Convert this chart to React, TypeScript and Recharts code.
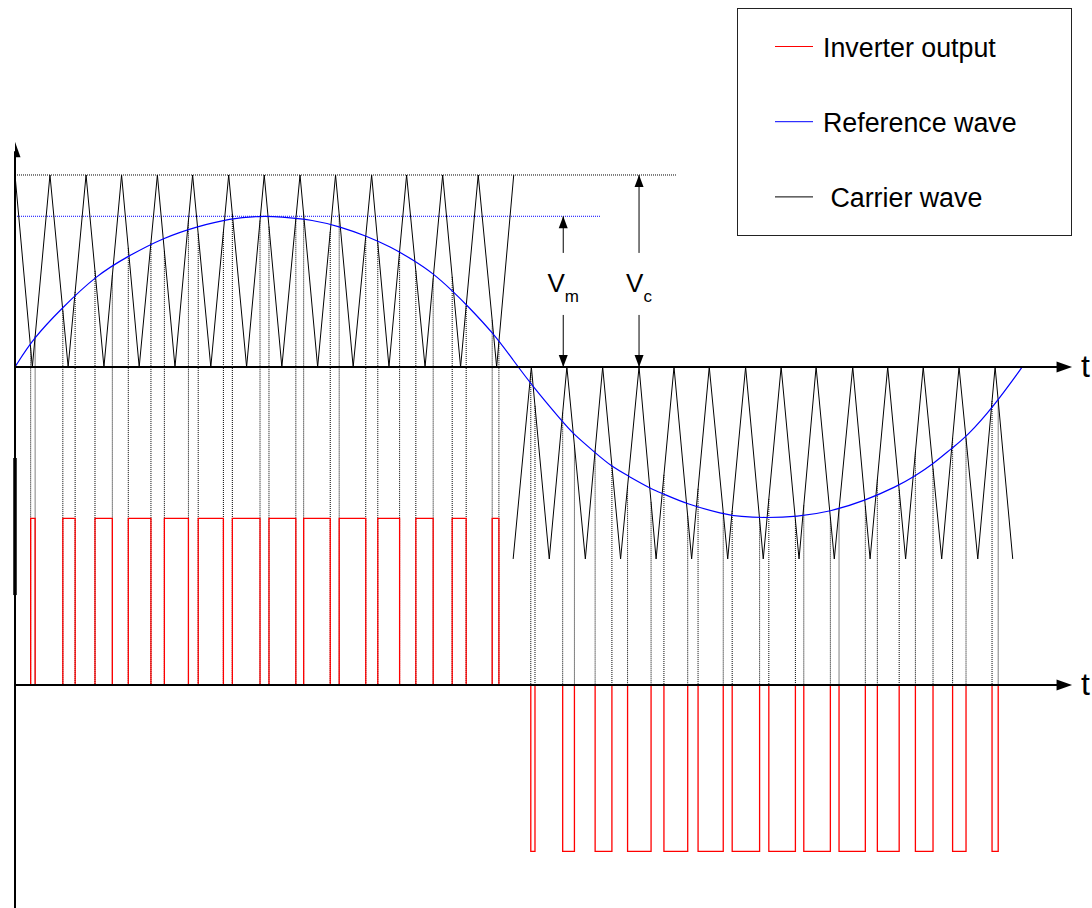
import React from 'react'
import { ComposedChart, Line, Scatter, XAxis, YAxis, ReferenceLine, Legend } from 'recharts'

// t = degrees of the reference wave, v = voltage normalised to the carrier peak (Vc = 1)
const CARRIER_POS_T = [0, 6.2, 12.5, 19.0, 25.4, 31.8, 38.1, 44.4, 50.9, 57.2, 63.5, 70.0, 76.4, 82.8, 89.1, 95.4, 101.9, 108.2, 114.6, 120.9, 127.5, 133.7, 140.0, 146.6, 152.9, 159.3, 165.6, 172.2, 178.3]
const CARRIER_POS_V = [1, 0, 1, 0, 1, 0, 1, 0, 1, 0, 1, 0, 1, 0, 1, 0, 1, 0, 1, 0, 1, 0, 1, 0, 1, 0, 1, 0, 1]
const CARRIER_NEG_T = [178.1, 184.6, 191.0, 197.3, 203.9, 210.1, 216.5, 223.1, 229.2, 235.6, 241.9, 248.2, 254.8, 261.2, 267.5, 273.9, 280.3, 286.4, 292.9, 299.5, 305.7, 312.0, 318.4, 324.7, 331.3, 337.5, 344.2, 350.4, 356.7]
const CARRIER_NEG_V = [-1, 0, -1, 0, -1, 0, -1, 0, -1, 0, -1, 0, -1, 0, -1, 0, -1, 0, -1, 0, -1, 0, -1, 0, -1, 0, -1, 0, -1]

const REF_T = [0, 6.5, 16.7, 29.2, 40.5, 53.0, 65.0, 76.9, 87.6, 94.7, 106.6, 116.2, 125.7, 134.1, 142.4, 149.5, 156.7, 161.5, 171.0, 178.1, 184.7, 195.5, 199.6, 207.4, 213.3, 219.3, 227.0, 231.8, 240.1, 253.2, 259.2, 268.7, 279.5, 291.4, 303.9, 315.2, 321.8, 328.3, 334.9, 340.2, 349.8, 360.1]
const REF_V = [0, 0.149, 0.306, 0.479, 0.578, 0.673, 0.731, 0.774, 0.786, 0.783, 0.766, 0.731, 0.682, 0.627, 0.557, 0.488, 0.392, 0.323, 0.176, 0.036, -0.094, -0.281, -0.349, -0.446, -0.519, -0.568, -0.632, -0.661, -0.714, -0.766, -0.78, -0.786, -0.78, -0.754, -0.696, -0.623, -0.568, -0.505, -0.423, -0.363, -0.207, 0]

// inverter output pulse edges (switch on / switch off)
const PULSE_POS_ON = [5.6, 17.1, 28.6, 40.5, 53.4, 65.5, 77.7, 90.8, 103.2, 115.9, 129.7, 143.3, 156.3, 170.6]
const PULSE_POS_OFF = [7.2, 21.5, 34.8, 48.6, 62.0, 74.5, 87.6, 100.4, 112.7, 125.4, 137.5, 149.5, 161.3, 173.0]
const PULSE_NEG_ON = [184.4, 195.8, 207.4, 219.0, 232.0, 244.2, 256.4, 269.5, 282.0, 294.6, 308.3, 321.9, 335.2, 349.3]
const PULSE_NEG_OFF = [185.9, 200.0, 213.4, 227.4, 240.5, 253.2, 266.2, 279.0, 291.5, 304.0, 316.1, 328.2, 340.0, 351.5]

const LEGEND_ITEMS = [
  { name: 'Inverter output', color: '#ff0000' },
  { name: 'Reference wave', color: '#0000ff' },
  { name: ' Carrier wave', color: '#000000' },
]

// annotation levels
const VM_LEVEL = 0.785
const VC_LEVEL = 1
const VM_GUIDE_END = 209.3
const VC_GUIDE_END = 236.3
const VM_AT = 196.0
const VC_AT = 223.1
const SHAFT_LOW = 0.271
const SHAFT_HIGH = 0.594
const AXIS_T_END = 377.9
const Y_AXIS_TOP = 1.173
const OUT_ZERO = -1.656
const OUT_AMP = 0.867

const T_MAX = 385
const V_MIN = -2.818
const V_MAX = 1.9
const FONT = '"Liberation Sans", Arial, Helvetica, sans-serif'

const zip = (ts: number[], vs: number[]) => ts.map((t, i) => ({ t, v: vs[i] }))

function levelAt(ts: number[], vs: number[], t: number) {
  for (let i = 0; i < ts.length - 1; i++) {
    if (t >= ts[i] && t <= ts[i + 1]) return vs[i] + ((vs[i + 1] - vs[i]) * (t - ts[i])) / (ts[i + 1] - ts[i])
  }
  return 0
}

const pulses = (on: number[], off: number[], sign: number) =>
  on.flatMap((s, i) => [
    { t: s, v: OUT_ZERO },
    { t: s, v: OUT_ZERO + sign * OUT_AMP },
    { t: off[i], v: OUT_ZERO + sign * OUT_AMP },
    { t: off[i], v: OUT_ZERO },
    { t: off[i], v: null },
  ])

const drops = (edges: number[], ts: number[], vs: number[]) =>
  edges.flatMap((t) => [{ t, v: levelAt(ts, vs, t) }, { t, v: OUT_ZERO }, { t, v: null }])

const carrierPos = zip(CARRIER_POS_T, CARRIER_POS_V)
const carrierNeg = zip(CARRIER_NEG_T, CARRIER_NEG_V)
const reference = zip(REF_T, REF_V)
const outPos = pulses(PULSE_POS_ON, PULSE_POS_OFF, 1)
const outNeg = pulses(PULSE_NEG_ON, PULSE_NEG_OFF, -1)
const dropLines = [
  ...drops([...PULSE_POS_ON, ...PULSE_POS_OFF], CARRIER_POS_T, CARRIER_POS_V),
  ...drops([...PULSE_NEG_ON, ...PULSE_NEG_OFF], CARRIER_NEG_T, CARRIER_NEG_V),
]

const heads = [
  { t: 0, v: Y_AXIS_TOP, dir: 'up', kind: 'axis' },
  { t: AXIS_T_END, v: 0, dir: 'right', kind: 'axis' },
  { t: AXIS_T_END, v: OUT_ZERO, dir: 'right', kind: 'axis' },
  { t: VM_AT, v: VM_LEVEL, dir: 'up', kind: 'dim' },
  { t: VM_AT, v: 0, dir: 'down', kind: 'dim' },
  { t: VC_AT, v: VC_LEVEL, dir: 'up', kind: 'dim' },
  { t: VC_AT, v: 0, dir: 'down', kind: 'dim' },
]

const tags = [
  { t: AXIS_T_END, v: 0, text: 't', sub: '', kind: 'axis' },
  { t: AXIS_T_END, v: OUT_ZERO, text: 't', sub: '', kind: 'axis' },
  { t: VM_AT, v: (SHAFT_LOW + SHAFT_HIGH) / 2, text: 'V', sub: 'm', kind: 'dim' },
  { t: VC_AT, v: (SHAFT_LOW + SHAFT_HIGH) / 2, text: 'V', sub: 'c', kind: 'dim' },
]

function Head(props: any) {
  const { cx, cy, payload } = props
  const axis = payload.kind === 'axis'
  const len = axis ? 15.5 : 12
  const w = axis ? 5.5 : 4.5
  let pts = ''
  if (payload.dir === 'up') pts = `${cx},${cy} ${cx - w},${cy + len} ${cx + w},${cy + len}`
  else if (payload.dir === 'down') pts = `${cx},${cy} ${cx - w},${cy - len} ${cx + w},${cy - len}`
  else pts = `${cx},${cy} ${cx - len},${cy - w} ${cx - len},${cy + w}`
  return <polygon points={pts} fill="#000" />
}

function Tag(props: any) {
  const { cx, cy, payload } = props
  if (payload.kind === 'axis') {
    return (
      <text x={cx + 9} y={cy + 10} fontSize={32} fontFamily={FONT} fill="#000">
        {payload.text}
      </text>
    )
  }
  return (
    <text x={cx} y={cy + 8} textAnchor="middle" fontSize={26} fontFamily={FONT} fill="#000">
      {payload.text}
      <tspan dy={10} fontSize={17}>
        {payload.sub}
      </tspan>
    </text>
  )
}

function LegendBox() {
  return (
    <svg width={335} height={228} style={{ display: 'block' }}>
      <rect x={0.5} y={0.5} width={334} height={227} fill="#fff" stroke="#222" strokeWidth={1} />
      {LEGEND_ITEMS.map((item, i) => (
        <g key={item.name}>
          <line x1={38} x2={76} y1={38.5 + i * 75.2} y2={38.5 + i * 75.2} stroke={item.color} strokeWidth={1} />
          <text x={86} y={49 + i * 75.2} fontSize={26.8} fontFamily={FONT} fill="#000" style={{ whiteSpace: 'pre' }}>
            {item.name}
          </text>
        </g>
      ))}
    </svg>
  )
}

export default function App() {
  return (
    <div style={{ position: 'fixed', left: 0, top: 0, width: 1092, height: 908, background: '#fff' }}>
      <ComposedChart width={1092} height={908} margin={{ top: 2.2, right: 0.1, bottom: 0, left: 15 }}>
        <XAxis dataKey="t" type="number" domain={[0, T_MAX]} hide allowDataOverflow />
        <YAxis type="number" domain={[V_MIN, V_MAX]} hide allowDataOverflow />
        <Legend
          layout="horizontal"
          align="center"
          verticalAlign="middle"
          wrapperStyle={{ left: 737, top: 8, width: 335, height: 228 }}
          content={() => <LegendBox />}
        />

        <ReferenceLine segment={[{ x: 0, y: VC_LEVEL }, { x: VC_GUIDE_END, y: VC_LEVEL }]} stroke="#000" strokeWidth={1} strokeDasharray="1 1" />
        <ReferenceLine segment={[{ x: 0, y: VM_LEVEL }, { x: VM_GUIDE_END, y: VM_LEVEL }]} stroke="#0000ff" strokeWidth={1} strokeDasharray="1 1" />

        <Line data={dropLines} dataKey="v" type="linear" stroke="#000" strokeWidth={1} strokeDasharray="1 1" dot={false} activeDot={false} isAnimationActive={false} legendType="none" />
        <Line data={carrierPos} dataKey="v" type="linear" stroke="#000" strokeWidth={1} dot={false} activeDot={false} isAnimationActive={false} />
        <Line data={carrierNeg} dataKey="v" type="linear" stroke="#000" strokeWidth={1} dot={false} activeDot={false} isAnimationActive={false} />
        <Line data={reference} dataKey="v" type="basis" stroke="#0000ff" strokeWidth={1.2} dot={false} activeDot={false} isAnimationActive={false} />
        <Line data={outPos} dataKey="v" type="linear" stroke="#ff0000" strokeWidth={1.3} dot={false} activeDot={false} isAnimationActive={false} />
        <Line data={outNeg} dataKey="v" type="linear" stroke="#ff0000" strokeWidth={1.3} dot={false} activeDot={false} isAnimationActive={false} />

        {/* axes */}
        <ReferenceLine segment={[{ x: 0, y: V_MIN }, { x: 0, y: Y_AXIS_TOP - 0.05 }]} stroke="#000" strokeWidth={2} />
        <ReferenceLine segment={[{ x: 0, y: -0.474 }, { x: 0, y: -1.188 }]} stroke="#000" strokeWidth={3.5} />
        <ReferenceLine segment={[{ x: 0, y: 0 }, { x: AXIS_T_END - 3, y: 0 }]} stroke="#000" strokeWidth={2} />
        <ReferenceLine segment={[{ x: 0, y: OUT_ZERO }, { x: AXIS_T_END - 3, y: OUT_ZERO }]} stroke="#000" strokeWidth={2} />

        {/* Vm / Vc dimension arrows */}
        <ReferenceLine segment={[{ x: VM_AT, y: SHAFT_HIGH }, { x: VM_AT, y: VM_LEVEL }]} stroke="#000" strokeWidth={1} />
        <ReferenceLine segment={[{ x: VM_AT, y: SHAFT_LOW }, { x: VM_AT, y: 0 }]} stroke="#000" strokeWidth={1} />
        <ReferenceLine segment={[{ x: VC_AT, y: SHAFT_HIGH }, { x: VC_AT, y: VC_LEVEL }]} stroke="#000" strokeWidth={1} />
        <ReferenceLine segment={[{ x: VC_AT, y: SHAFT_LOW }, { x: VC_AT, y: 0 }]} stroke="#000" strokeWidth={1} />

        <Scatter data={heads} dataKey="v" shape={Head} isAnimationActive={false} />
        <Scatter data={tags} dataKey="v" shape={Tag} isAnimationActive={false} />
      </ComposedChart>
    </div>
  )
}
